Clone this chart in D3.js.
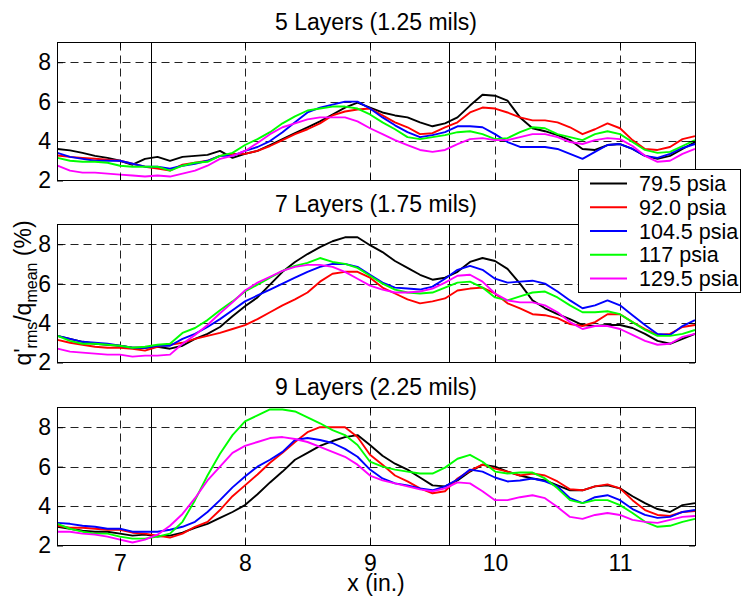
<!DOCTYPE html>
<html><head><meta charset="utf-8">
<script src="https://cdn.jsdelivr.net/npm/d3@7"></script>
<style>
body{margin:0;background:#fff}
svg text{font-family:Arial,"Liberation Sans",sans-serif;fill:#000}
</style>
</head><body>
<svg id="c" width="742" height="596"></svg>
<script>
// ---------------- data ----------------
const xs = [6.5,6.6,6.7,6.8,6.9,7.0,7.1,7.2,7.3,7.4,7.5,7.6,7.7,7.8,7.9,8.0,8.1,8.2,8.3,8.4,8.5,8.6,8.7,8.8,8.9,9.0,
            9.1,9.2,9.3,9.4,9.5,9.6,9.7,9.8,9.9,10.0,10.1,10.2,10.3,10.4,10.5,10.6,10.7,10.8,10.9,11.0,11.1,11.2,11.3,11.4,11.5,11.6];
const seriesNames = ["79.5 psia","92.0 psia","104.5 psia","117 psia","129.5 psia"];
const seriesColors = ["#000000","#ff0000","#0000ff","#00ff00","#ff00ff"];
const panelTitles = ["5 Layers (1.25 mils)","7 Layers (1.75 mils)","9 Layers (2.25 mils)"];
const xTicks = [7,8,9,10,11];
const yTicks = [2,4,6,8];
const xDomain = [6.5,11.6];
const yDomain = [2,9];
const markerLines = [7.245,9.635];

// 5 layers
const L5_p795  = [3.6,3.53,3.4,3.25,3.15,3.0,2.8,3.1,3.2,3.0,3.2,3.25,3.3,3.5,3.15,3.35,3.5,3.8,4.1,4.4,4.7,5.0,5.35,5.7,5.95,5.7,
                  5.45,5.3,5.2,4.95,4.75,4.9,5.2,5.8,6.35,6.3,6.05,5.2,4.65,4.5,4.3,4.05,3.6,3.55,3.8,3.85,3.6,3.25,3.1,3.25,3.6,3.95];
const L5_p920  = [3.27,3.2,3.15,3.1,3.05,3.0,2.85,2.7,2.6,2.5,2.8,2.9,3.0,3.25,3.35,3.35,3.5,3.75,4.05,4.35,4.6,4.9,5.3,5.5,5.6,5.65,
                  5.3,4.95,4.7,4.35,4.4,4.7,4.95,5.45,5.7,5.65,5.45,5.2,5.05,5.05,4.95,4.7,4.35,4.6,4.9,4.65,4.05,3.6,3.55,3.7,4.1,4.25];
const L5_p1045 = [3.4,3.2,3.1,3.0,3.0,3.0,2.85,2.7,2.7,2.6,2.75,2.85,3.0,3.25,3.25,3.5,3.7,4.0,4.45,4.95,5.45,5.7,5.85,6.0,6.0,5.65,
                  5.2,4.8,4.45,4.2,4.3,4.45,4.75,4.75,4.7,4.35,3.95,3.7,3.7,3.7,3.6,3.35,3.1,3.45,3.8,3.85,3.6,3.25,3.15,3.35,3.65,3.85];
const L5_p117  = [3.15,3.0,2.95,2.95,2.9,2.75,2.7,2.7,2.7,2.5,2.75,2.9,2.95,3.25,3.4,3.8,4.1,4.45,4.9,5.25,5.55,5.65,5.75,5.75,5.65,5.35,
                  4.95,4.6,4.2,4.1,4.2,4.3,4.45,4.5,4.35,4.1,4.15,4.45,4.7,4.65,4.35,4.2,4.05,4.35,4.5,4.35,3.95,3.55,3.4,3.45,3.75,4.05];
const L5_p1295 = [2.75,2.5,2.4,2.4,2.35,2.3,2.25,2.2,2.25,2.2,2.35,2.5,2.75,3.1,3.25,3.5,3.9,4.35,4.7,4.9,5.1,5.2,5.2,5.2,5.0,4.65,
                  4.35,4.05,3.8,3.55,3.45,3.55,3.85,4.1,4.15,4.05,4.05,4.2,4.35,4.35,4.2,3.95,3.85,4.05,4.15,4.1,3.75,3.25,2.95,3.0,3.35,3.6];
// 7 layers
const L7_p795  = [3.35,3.2,3.05,2.95,2.9,2.85,2.75,2.75,2.8,2.7,2.85,3.2,3.45,3.8,4.35,4.85,5.3,5.95,6.6,7.1,7.5,7.85,8.15,8.35,8.35,7.95,
                  7.6,7.15,6.8,6.45,6.2,6.3,6.6,7.1,7.3,7.15,6.75,6.0,5.15,4.75,4.45,4.2,3.9,3.85,3.9,3.9,3.75,3.45,3.1,2.95,3.2,3.45];
const L7_p920  = [3.15,3.0,2.9,2.8,2.75,2.75,2.7,2.6,2.8,2.9,3.0,3.2,3.35,3.5,3.7,3.9,4.2,4.55,4.9,5.2,5.55,6.1,6.5,6.6,6.6,6.3,
                  5.8,5.5,5.2,5.0,5.1,5.25,5.65,5.75,5.8,5.5,5.0,4.75,4.45,4.4,4.25,3.95,3.85,4.05,4.45,4.45,4.05,3.7,3.4,3.45,3.8,3.9];
const L7_p1045 = [3.35,3.2,3.05,3.0,2.95,2.85,2.75,2.75,2.85,2.85,3.2,3.45,3.8,4.2,4.65,5.1,5.4,5.7,6.0,6.3,6.6,6.85,7.0,7.0,6.85,6.45,
                  6.05,5.8,5.75,5.7,5.85,6.25,6.7,6.9,6.7,6.25,6.05,6.1,6.15,6.0,5.6,5.15,4.75,4.9,5.15,4.9,4.4,3.9,3.45,3.4,3.85,4.15];
const L7_p117  = [3.35,3.1,2.95,2.95,2.9,2.85,2.75,2.8,2.9,2.95,3.5,3.75,4.15,4.65,5.1,5.6,5.95,6.3,6.65,6.9,7.05,7.3,7.1,7.0,6.8,6.4,
                  6.0,5.7,5.55,5.5,5.55,5.8,6.05,6.1,5.8,5.3,5.15,5.35,5.55,5.6,5.3,4.9,4.55,4.55,4.6,4.45,4.05,3.65,3.35,3.35,3.45,3.65];
const L7_p1295 = [2.7,2.55,2.5,2.45,2.4,2.4,2.3,2.35,2.35,2.4,2.95,3.4,3.9,4.5,5.05,5.65,6.05,6.35,6.65,6.85,6.95,6.95,6.85,6.6,6.25,5.9,
                  5.7,5.55,5.55,5.6,5.75,6.05,6.4,6.45,6.1,5.5,5.15,5.05,5.05,4.9,4.55,4.05,3.7,3.85,3.85,3.7,3.4,3.1,2.9,2.95,3.3,3.45];
// 9 layers
const L9_p795  = [2.95,2.85,2.75,2.7,2.7,2.6,2.5,2.55,2.45,2.5,2.65,2.9,3.1,3.4,3.7,4.05,4.6,5.2,5.75,6.35,6.7,7.05,7.3,7.5,7.6,7.1,
                  6.55,6.15,5.85,5.45,5.05,5.0,5.3,5.75,6.1,6.0,5.75,5.55,5.4,5.3,5.05,4.8,4.8,5.0,5.05,4.9,4.5,4.15,3.85,3.7,4.05,4.15];
const L9_p920  = [3.0,2.9,2.9,2.85,2.8,2.8,2.65,2.6,2.5,2.4,2.6,2.95,3.2,3.8,4.5,5.05,5.6,6.2,6.7,7.25,7.75,8.0,8.0,8.0,7.5,6.6,
                  6.1,5.55,5.25,4.9,4.65,4.75,5.4,5.8,6.1,5.9,5.75,5.55,5.65,5.55,5.25,4.85,4.8,5.0,5.1,4.9,4.3,3.8,3.55,3.5,3.7,3.75];
const L9_p1045 = [3.15,3.1,3.0,2.95,2.85,2.85,2.7,2.7,2.7,2.8,2.95,3.2,3.7,4.3,4.95,5.5,6.0,6.35,6.75,7.35,7.45,7.35,7.2,6.9,6.5,5.85,
                  5.4,5.15,5.05,4.9,4.8,5.0,5.35,5.85,5.75,5.45,5.25,5.3,5.4,5.25,5.0,4.4,4.15,4.45,4.55,4.3,3.85,3.55,3.4,3.45,3.7,3.8];
const L9_p117  = [3.1,2.85,2.7,2.6,2.6,2.45,2.35,2.35,2.45,2.6,3.2,4.3,5.55,6.65,7.6,8.3,8.6,8.9,8.9,8.8,8.5,8.2,7.85,7.6,7.1,6.25,
                  6.0,5.85,5.75,5.65,5.65,5.95,6.4,6.6,6.25,5.75,5.65,5.7,5.7,5.4,4.9,4.3,4.15,4.3,4.3,4.05,3.65,3.2,2.95,3.0,3.2,3.35];
const L9_p1295 = [2.7,2.7,2.6,2.55,2.45,2.3,2.15,2.3,2.55,3.0,3.6,4.4,5.3,6.0,6.7,7.05,7.25,7.45,7.5,7.4,7.25,7.0,6.75,6.5,6.1,5.55,
                  5.3,5.15,5.0,4.85,4.75,4.9,5.2,5.15,4.75,4.3,4.3,4.45,4.55,4.4,3.95,3.45,3.35,3.55,3.65,3.55,3.3,3.2,3.15,3.3,3.45,3.5];

const panelSeries = [
  [L5_p795, L5_p920, L5_p1045, L5_p117, L5_p1295],
  [L7_p795, L7_p920, L7_p1045, L7_p117, L7_p1295],
  [L9_p795, L9_p920, L9_p1045, L9_p117, L9_p1295]
];

// ---------------- layout ----------------
const svg = d3.select("#c");
svg.append("rect").attr("width",742).attr("height",596).attr("fill","#fff");
const left = 57.5, right = 695.5;
const panelTops = [42.5, 224.5, 407.5];
const panelH = 138;
const FONT = 23;
const x = d3.scaleLinear().domain(xDomain).range([left, right - 0.5]);
const fmt = d3.format("d");

panelSeries.forEach((series, i) => {
  const top = panelTops[i];
  const y = d3.scaleLinear().domain(yDomain).range([top + panelH, top]);
  const g = svg.append("g");

  g.append("rect").attr("x", left).attr("y", top).attr("width", right-left).attr("height", panelH).attr("fill","#fff");

  // grid
  const grid = g.append("g").attr("stroke","#222").attr("stroke-width",1).attr("stroke-dasharray","8,5");
  xTicks.forEach(t => {
    const px = Math.round(x(t)) + 0.5;
    grid.append("line").attr("x1",px).attr("x2",px).attr("y1",top).attr("y2",top+panelH);
  });
  yTicks.filter(t => t > yDomain[0]).forEach(t => {
    const py = Math.round(y(t)) + 0.5;
    grid.append("line").attr("x1",left).attr("x2",right).attr("y1",py).attr("y2",py);
  });

  // solid marker lines
  markerLines.forEach(m => {
    const px = Math.round(x(m)) + 0.5;
    g.append("line").attr("x1",px).attr("x2",px).attr("y1",top).attr("y2",top+panelH)
      .attr("stroke","#000").attr("stroke-width",1);
  });

  // data lines
  const line = d3.line().x((d,k) => x(xs[k])).y(d => y(d));
  series.forEach((vals, s) => {
    g.append("path").datum(vals).attr("d", line).attr("fill","none")
      .attr("stroke", seriesColors[s]).attr("stroke-width",1.9).attr("stroke-linejoin","round");
  });

  // frame
  g.append("rect").attr("x", left).attr("y", top).attr("width", right-left).attr("height", panelH)
    .attr("fill","none").attr("stroke","#000").attr("stroke-width",1);

  // axes (inward ticks)
  const yl = d3.axisLeft(y).tickValues(yTicks).tickSize(-6).tickPadding(6).tickFormat(fmt);
  const yr = d3.axisRight(y).tickValues(yTicks).tickSize(-6).tickFormat("");
  const xt = d3.axisTop(x).tickValues(xTicks).tickSize(-6).tickFormat("");
  const xb = d3.axisBottom(x).tickValues(xTicks).tickSize(-6).tickPadding(10).tickFormat(i < 2 ? "" : fmt);
  const ax = [
    g.append("g").attr("transform",`translate(${left-0.5},0)`).call(yl),
    g.append("g").attr("transform",`translate(${right-0.5},0)`).call(yr),
    g.append("g").attr("transform",`translate(0,${top-0.5})`).call(xt),
    g.append("g").attr("transform",`translate(0,${top+panelH-0.5})`).call(xb)
  ];
  ax.forEach(a => {
    a.select(".domain").remove();
    a.selectAll("text").style("font-size", FONT+"px").attr("fill","#000")
      .style("font-family",'Arial,"Liberation Sans",sans-serif');
    a.selectAll("line").attr("stroke","#000");
  });

  // title
  svg.append("text").attr("x", 376).attr("y", top - 13).attr("text-anchor","middle")
    .style("font-size", FONT+"px").text(panelTitles[i]);
});

// x label
svg.append("text").attr("x", 376).attr("y", 591).attr("text-anchor","middle")
  .style("font-size", FONT+"px").text("x (in.)");

// y label
const ylab = svg.append("text").attr("transform","translate(31,293) rotate(-90)")
  .attr("text-anchor","middle").style("font-size", FONT+"px");
ylab.append("tspan").text("q'");
ylab.append("tspan").attr("dy",6).style("font-size","16px").text("rms");
ylab.append("tspan").attr("dy",-6).text("/q");
ylab.append("tspan").attr("dy",6).style("font-size","16px").text("mean");
ylab.append("tspan").attr("dy",-6).text(" (%)");

// legend
const LFONT = 21.5;
const lg = svg.append("g");
lg.append("rect").attr("x",578.5).attr("y",169.5).attr("width",162).attr("height",123)
  .attr("fill","#fff").attr("stroke","#000").attr("stroke-width",1);
seriesNames.forEach((nm, s) => {
  const ly = 183.5 + s * 23.75;
  lg.append("line").attr("x1",590).attr("x2",627).attr("y1",ly).attr("y2",ly)
    .attr("stroke",seriesColors[s]).attr("stroke-width",1.9);
  lg.append("text").attr("x",639).attr("y",ly + 7.5).style("font-size", LFONT+"px").text(nm);
});
</script>
</body></html>
